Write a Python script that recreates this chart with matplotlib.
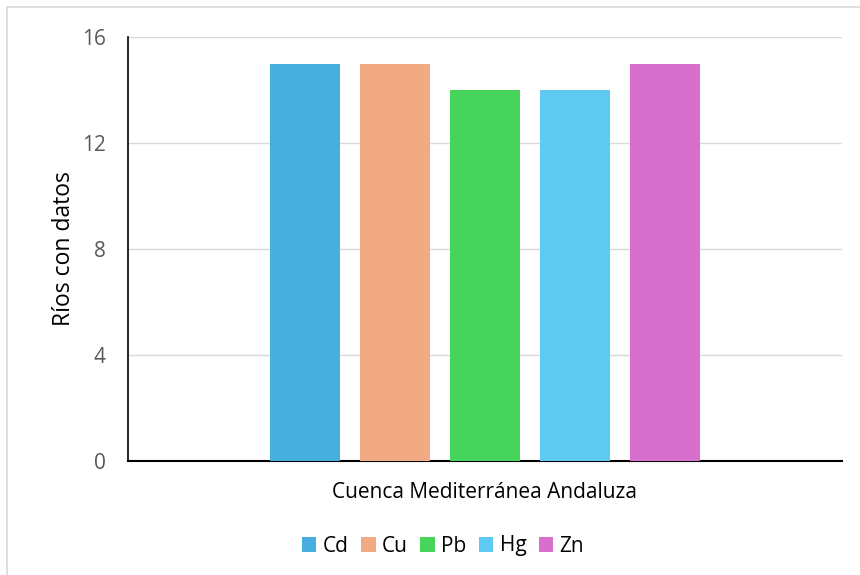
import matplotlib
matplotlib.use("Agg")
import matplotlib.pyplot as plt
from matplotlib.patches import Rectangle, Patch
import numpy as np

categories = ["Cuenca Mediterránea Andaluza"]
series = ["Cd", "Cu", "Pb", "Hg", "Zn"]
values = [15, 15, 14, 14, 15]
colors = ["#47AFDF", "#F2AA84", "#46D45C", "#5FCAF1", "#D670CC"]
yticks = [0, 4, 8, 12, 16]

plt.rcParams['font.family'] = ['Open Sans', 'DejaVu Sans']

fig = plt.figure(figsize=(8.6, 5.75), dpi=100)
ax = fig.add_axes([128/860, 1 - 461/575, (842-128)/860, (461-37)/575])

axw = 842 - 128
bw = 70 / axw
step = 90 / axw
x0 = 0
for i, (s, v, c) in enumerate(zip(series, values, colors)):
    ax.bar(x0 + (i - 2) * step, v, width=bw, color=c, label=s, zorder=3)

ax.set_xlim(-0.5, 0.5)
ax.set_ylim(0, 16)
ax.set_yticks(yticks)
ax.set_yticklabels([str(t) for t in yticks], fontsize=15, color="#595959")
ax.set_xticks([])
ax.grid(axis='y', color="#D9D9D9", linewidth=1, zorder=0)
ax.tick_params(axis='y', length=0, pad=16)
for s in ['top', 'right']:
    ax.spines[s].set_visible(False)
ax.spines['left'].set_color("#000000")
ax.spines['bottom'].set_color("#000000")
ax.spines['left'].set_linewidth(1.2)
ax.spines['bottom'].set_linewidth(1.5)

ax.set_ylabel("Ríos con datos", fontsize=16.5, color="#000000", labelpad=4)
fig.text(485/860, 1 - 493/575, categories[0], fontsize=15, ha='center', va='center', color="#000000")

handles = [Patch(facecolor=c, label=s) for s, c in zip(series, colors)]
fig.legend(handles=handles, loc='center', bbox_to_anchor=(443/860, 1 - 546/575), ncol=5,
           frameon=False, fontsize=15, handlelength=0.7, handleheight=0.7,
           handletextpad=0.3, columnspacing=0.6)

fig.add_artist(Rectangle((7/860, -0.1), 1.2, 1 - 7/575 + 0.1, transform=fig.transFigure,
                         fill=False, edgecolor="#D9D9D9", linewidth=1.2))

fig.savefig("out.png", dpi=100)
